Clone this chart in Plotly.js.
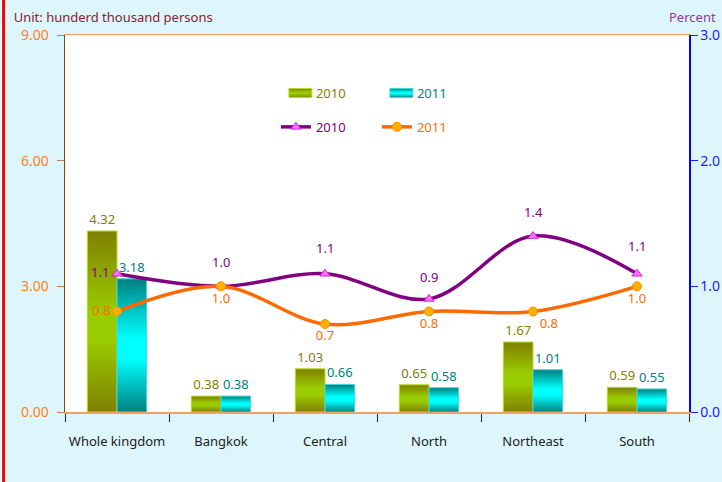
<!DOCTYPE html>
<html>
<head>
<meta charset="utf-8">
<script src="https://cdn.plot.ly/plotly-3.0.1.min.js"></script>
<style>
html,body{margin:0;padding:0;background:#dcf6fc;}
#chart{width:722px;height:482px;}
</style>
</head>
<body>
<div id="chart"></div>
<script>
var categories = ['Whole kingdom', 'Bangkok', 'Central', 'North', 'Northeast', 'South'];
var pop2010 = [4.32, 0.38, 1.03, 0.65, 1.67, 0.59];
var pop2011 = [3.18, 0.38, 0.66, 0.58, 1.01, 0.55];
var pct2010 = [1.1, 1.0, 1.1, 0.9, 1.4, 1.1];
var pct2011 = [0.8, 1.0, 0.7, 0.8, 0.8, 1.0];
var seriesNames = ['2010', '2011'];

var FONT = 'Noto Sans, DejaVu Sans, sans-serif';

// label placement (style only)
var pct2010Shift = [[-17, 2], [0, 24], [0, 26], [0, 22], [0, 24], [0, 28]];
var pct2011Pos = ['middle left', 'bottom center', 'bottom center', 'bottom center', 'bottom right', 'bottom center'];

var traces = [
  {
    type: 'bar', x: categories, y: pop2010, name: '<span style="color:#808000">' + seriesNames[0] + '</span>',
    marker: {color: '#8fb800', line: {color: '#b8dc20', width: 1}},
    text: pop2010.map(function (v) { return v.toFixed(2); }),
    textposition: 'outside', cliponaxis: false,
    textfont: {color: '#808000', size: 13, family: FONT},
    legend: 'legend', hoverinfo: 'x+y'
  },
  {
    type: 'bar', x: categories, y: pop2011, name: '<span style="color:#008080">' + seriesNames[1] + '</span>',
    marker: {color: '#00d0d0', line: {color: '#40d8d8', width: 1}},
    text: pop2011.map(function (v) { return v.toFixed(2); }),
    textposition: 'outside', cliponaxis: false,
    textfont: {color: '#008080', size: 13, family: FONT},
    legend: 'legend', hoverinfo: 'x+y'
  },
  {
    type: 'scatter', mode: 'lines+markers', x: categories, y: pct2010, yaxis: 'y2',
    name: '<span style="color:#800080">' + seriesNames[0] + '</span>',
    line: {color: '#800080', width: 3.5, shape: 'spline', smoothing: 1},
    marker: {symbol: 'triangle-up', size: 9, color: '#ff70ff', line: {color: '#d020d0', width: 1}},
    cliponaxis: false,
    legend: 'legend2'
  },
  {
    type: 'scatter', mode: 'lines+markers+text', x: categories, y: pct2011, yaxis: 'y2',
    name: '<span style="color:#ff6a00">' + seriesNames[1] + '</span>',
    line: {color: '#ff6a00', width: 3.5, shape: 'spline', smoothing: 1},
    marker: {symbol: 'circle', size: 9, color: '#ffb000', line: {color: '#ff9000', width: 1}},
    text: pct2011.map(function (v) { return v.toFixed(1); }),
    textposition: pct2011Pos, cliponaxis: false,
    textfont: {color: '#ff6a00', size: 13, family: FONT},
    legend: 'legend2'
  }
];

var annotations = [{
  text: 'Percent', xref: 'paper', yref: 'paper', x: 1.0465, y: 1.047,
  xanchor: 'right', yanchor: 'middle', showarrow: false,
  font: {family: FONT, size: 13, color: '#993399'}
}];
pct2010.forEach(function (v, i) {
  annotations.push({
    x: categories[i], y: v, xref: 'x', yref: 'y2', text: v.toFixed(1), showarrow: false,
    xshift: pct2010Shift[i][0], yshift: pct2010Shift[i][1],
    font: {family: FONT, size: 13, color: '#800080'}
  });
});

var layout = {
  width: 722, height: 482,
  margin: {l: 65, r: 33, t: 35, b: 70},
  paper_bgcolor: '#dcf6fc',
  plot_bgcolor: '#ffffff',
  font: {family: FONT, size: 13, color: '#333333'},
  barmode: 'group', bargap: 0.43, bargroupgap: 0,
  title: {
    text: 'Unit: hunderd thousand persons',
    x: 0.019, xref: 'container', xanchor: 'left',
    y: 0.963, yref: 'container', yanchor: 'middle',
    font: {family: FONT, size: 13, color: '#8b2030'}
  },
  xaxis: {
    type: 'category', tickson: 'boundaries', ticks: 'outside', ticklen: 8, tickcolor: '#222222',
    showline: true, linecolor: '#f5a060', linewidth: 1.5, mirror: true,
    showgrid: false, zeroline: false, ticklabelstandoff: 17, tickangle: 0,
    tickfont: {family: FONT, size: 13, color: '#222222'}
  },
  yaxis: {
    range: [0, 9], dtick: 3, tickformat: '.2f', ticks: 'outside', ticklen: 7, tickcolor: '#c08060',
    showline: true, linecolor: '#8b4513', linewidth: 1.5, showgrid: false, zeroline: false,
    ticklabelstandoff: 5,
    tickfont: {family: FONT, size: 14, color: '#ff8020'}
  },
  yaxis2: {
    range: [0, 3], dtick: 1, tickformat: '.1f', overlaying: 'y', side: 'right',
    ticks: 'outside', ticklen: 7, tickcolor: '#2020ff',
    showline: true, linecolor: '#0000ff', linewidth: 1.5, showgrid: false, zeroline: false,
    tickfont: {family: FONT, size: 14, color: '#2020ff'}
  },
  legend: {
    orientation: 'h', x: 0.338, y: 0.886, xanchor: 'left', yanchor: 'top',
    bgcolor: 'rgba(0,0,0,0)', entrywidth: 56, entrywidthmode: 'pixels',
    font: {family: FONT, size: 13}, traceorder: 'normal'
  },
  legend2: {
    orientation: 'h', x: 0.338, y: 0.796, xanchor: 'left', yanchor: 'top',
    bgcolor: 'rgba(0,0,0,0)', entrywidth: 56, entrywidthmode: 'pixels',
    font: {family: FONT, size: 13}, traceorder: 'normal'
  },
  annotations: annotations,
  shapes: [{
    type: 'line', xref: 'paper', yref: 'paper', x0: -0.0985, x1: -0.0985, y0: -0.19, y1: 1.1,
    line: {color: '#ff0000', width: 3}, layer: 'above'
  }]
};

Plotly.newPlot('chart', traces, layout, {displayModeBar: false, staticPlot: true}).then(function (gd) {
  var svg = gd.querySelector('.main-svg');
  var ns = 'http://www.w3.org/2000/svg';
  var defs = svg.querySelector('defs') || svg.insertBefore(document.createElementNS(ns, 'defs'), svg.firstChild);
  function grad(id, edge, mid) {
    var g = document.createElementNS(ns, 'linearGradient');
    g.setAttribute('id', id);
    g.setAttribute('x1', '0'); g.setAttribute('y1', '0');
    g.setAttribute('x2', '0'); g.setAttribute('y2', '1');
    [[0, edge], [0.45, mid], [0.6, mid], [1, edge]].forEach(function (s) {
      var st = document.createElementNS(ns, 'stop');
      st.setAttribute('offset', s[0]);
      st.setAttribute('stop-color', s[1]);
      g.appendChild(st);
    });
    defs.appendChild(g);
  }
  grad('g2010', '#808000', '#99cc00');
  grad('g2011', '#008080', '#00ffff');
  var barTraces = gd.querySelectorAll('g.trace.bars');
  var ids = ['g2010', 'g2011'];
  barTraces.forEach(function (t, i) {
    t.querySelectorAll('path').forEach(function (p) { p.style.fill = 'url(#' + ids[i] + ')'; });
  });
  var legendItems = gd.querySelectorAll('g.legend g.traces');
  legendItems.forEach(function (item, i) {
    if (i > 1) return;
    item.querySelectorAll('.legendpoints path').forEach(function (p) {
      p.setAttribute('d', 'M-7,-4.5H16V4.5H-7Z');
      p.style.fill = 'url(#' + ids[i] + ')';
    });
  });
});
</script>
</body>
</html>
